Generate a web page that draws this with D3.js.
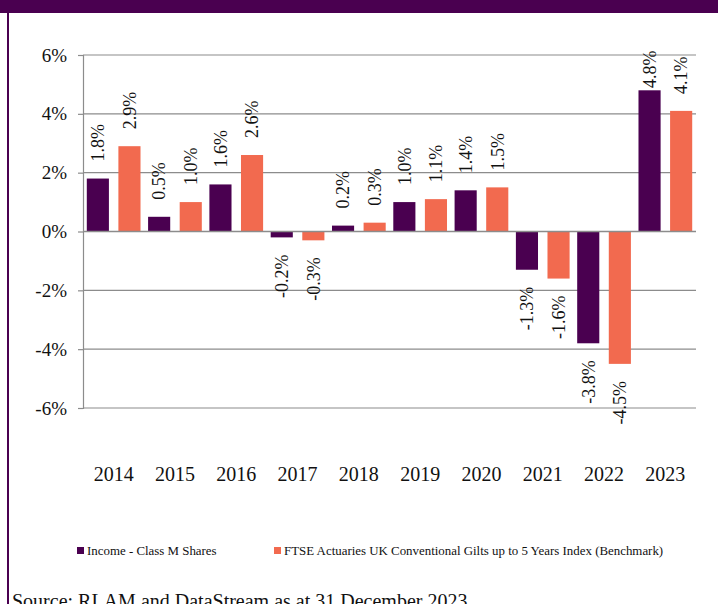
<!DOCTYPE html>
<html>
<head>
<meta charset="utf-8">
<script src="https://cdn.jsdelivr.net/npm/d3@7"></script>
<style>
  body { margin: 0; background: #fff; }
  svg text { font-family: "Liberation Serif", "Times New Roman", serif; fill: #111; }
</style>
</head>
<body>
<div id="chart"></div>
<script>
const years = ["2014", "2015", "2016", "2017", "2018", "2019", "2020", "2021", "2022", "2023"];
const incomeValues = [1.8, 0.5, 1.6, -0.2, 0.2, 1.0, 1.4, -1.3, -3.8, 4.8];
const benchmarkValues = [2.9, 1.0, 2.6, -0.3, 0.3, 1.1, 1.5, -1.6, -4.5, 4.1];
const seriesNames = ["Income - Class M Shares", "FTSE Actuaries UK Conventional Gilts up to 5 Years Index (Benchmark)"];
const yTicks = [-6, -4, -2, 0, 2, 4, 6];
const sourceText = "Source: RLAM and DataStream as at 31 December 2023";

const W = 718, H = 604;
const purple = "#4a0050", orange = "#f26a4f";
const colors = [purple, orange];

const svg = d3.select("#chart")
    .append("svg")
    .attr("width", W)
    .attr("height", H);

// frame: top band and left rule
svg.append("rect").attr("x", 0).attr("y", 0).attr("width", W).attr("height", 13).attr("fill", purple);
svg.append("rect").attr("x", 7).attr("y", 13).attr("width", 2).attr("height", H - 13).attr("fill", purple);

const plotLeft = 83, plotRight = 696, plotTop = 55, plotBottom = 408;

const y = d3.scaleLinear()
    .domain([-6, 6])
    .range([plotBottom, plotTop]);

const x0 = d3.scaleBand()
    .domain(years)
    .range([plotLeft, plotRight])
    .padding(0);

const x1 = d3.scaleBand()
    .domain([0, 1])
    .range([0, x0.bandwidth()])
    .paddingInner(0.3)
    .paddingOuter(0.12);

// gridlines
svg.append("g")
    .selectAll("line")
    .data(yTicks)
    .join("line")
    .attr("x1", plotLeft)
    .attr("x2", plotRight)
    .attr("y1", d => y(d))
    .attr("y2", d => y(d))
    .attr("stroke", "#8c8c8c")
    .attr("stroke-width", 1.2);

// Y axis
const yAxis = svg.append("g")
    .attr("transform", "translate(" + plotLeft + ",0)")
    .call(d3.axisLeft(y).tickValues(yTicks).tickFormat(d => d + "%").tickSize(5).tickPadding(11));
yAxis.selectAll("path, line").attr("stroke", "#8c8c8c").attr("stroke-width", 1.2);
yAxis.selectAll("text").style("font-size", "19px").style("font-family", "Liberation Serif").attr("fill", "#111");

// X labels
const xAxis = svg.append("g")
    .attr("transform", "translate(0," + plotBottom + ")")
    .call(d3.axisBottom(x0).tickSize(0).tickPadding(59));
xAxis.select(".domain").remove();
xAxis.selectAll("text").style("font-size", "20px").style("font-family", "Liberation Serif").attr("fill", "#111");

// bars
const rows = years.map((yr, i) => ({ year: yr, vals: [incomeValues[i], benchmarkValues[i]] }));
const cells = [];
rows.forEach(r => r.vals.forEach((v, s) => cells.push({ year: r.year, s: s, v: v })));

svg.append("g")
    .selectAll("rect")
    .data(cells)
    .join("rect")
    .attr("x", d => x0(d.year) + x1(d.s))
    .attr("width", x1.bandwidth())
    .attr("y", d => y(Math.max(0, d.v)))
    .attr("height", d => Math.abs(y(d.v) - y(0)))
    .attr("fill", d => colors[d.s]);

// zero line on top
svg.append("line")
    .attr("x1", plotLeft).attr("x2", plotRight)
    .attr("y1", y(0)).attr("y2", y(0))
    .attr("stroke", "#8c8c8c").attr("stroke-width", 1.5);

// data labels, rotated
const labelGap = 17;
svg.append("g")
    .selectAll("text")
    .data(cells)
    .join("text")
    .attr("transform", function(d) {
        const cx = x0(d.year) + x1(d.s) + x1.bandwidth() / 2;
        let p;
        if (d.v >= 0) {
            p = y(d.v) - labelGap;
            p = Math.max(p, plotTop + 33); // keep inside chart area
        } else {
            p = y(d.v) + labelGap;
        }
        return "translate(" + cx + "," + p + ") rotate(-90)";
    })
    .attr("text-anchor", d => d.v >= 0 ? "start" : "end")
    .attr("dy", "0.35em")
    .style("font-size", "18px")
    .text(d => d.v.toFixed(1) + "%");

// legend
const legendX = [77, 274];
const legend = svg.append("g")
    .selectAll("g")
    .data(seriesNames)
    .join("g")
    .attr("transform", (d, i) => "translate(" + legendX[i] + ",547)");
legend.append("rect")
    .attr("width", 7).attr("height", 7)
    .attr("fill", (d, i) => colors[i]);
legend.append("text")
    .attr("x", 10)
    .attr("y", 3.5)
    .attr("dy", "0.35em")
    .style("font-size", "12.9px")
    .text(d => d);

// source note (cut by the bottom edge, as in the original)
svg.append("text")
    .attr("x", 12)
    .attr("y", 608)
    .style("font-size", "20px")
    .text(sourceText);
</script>
</body>
</html>
